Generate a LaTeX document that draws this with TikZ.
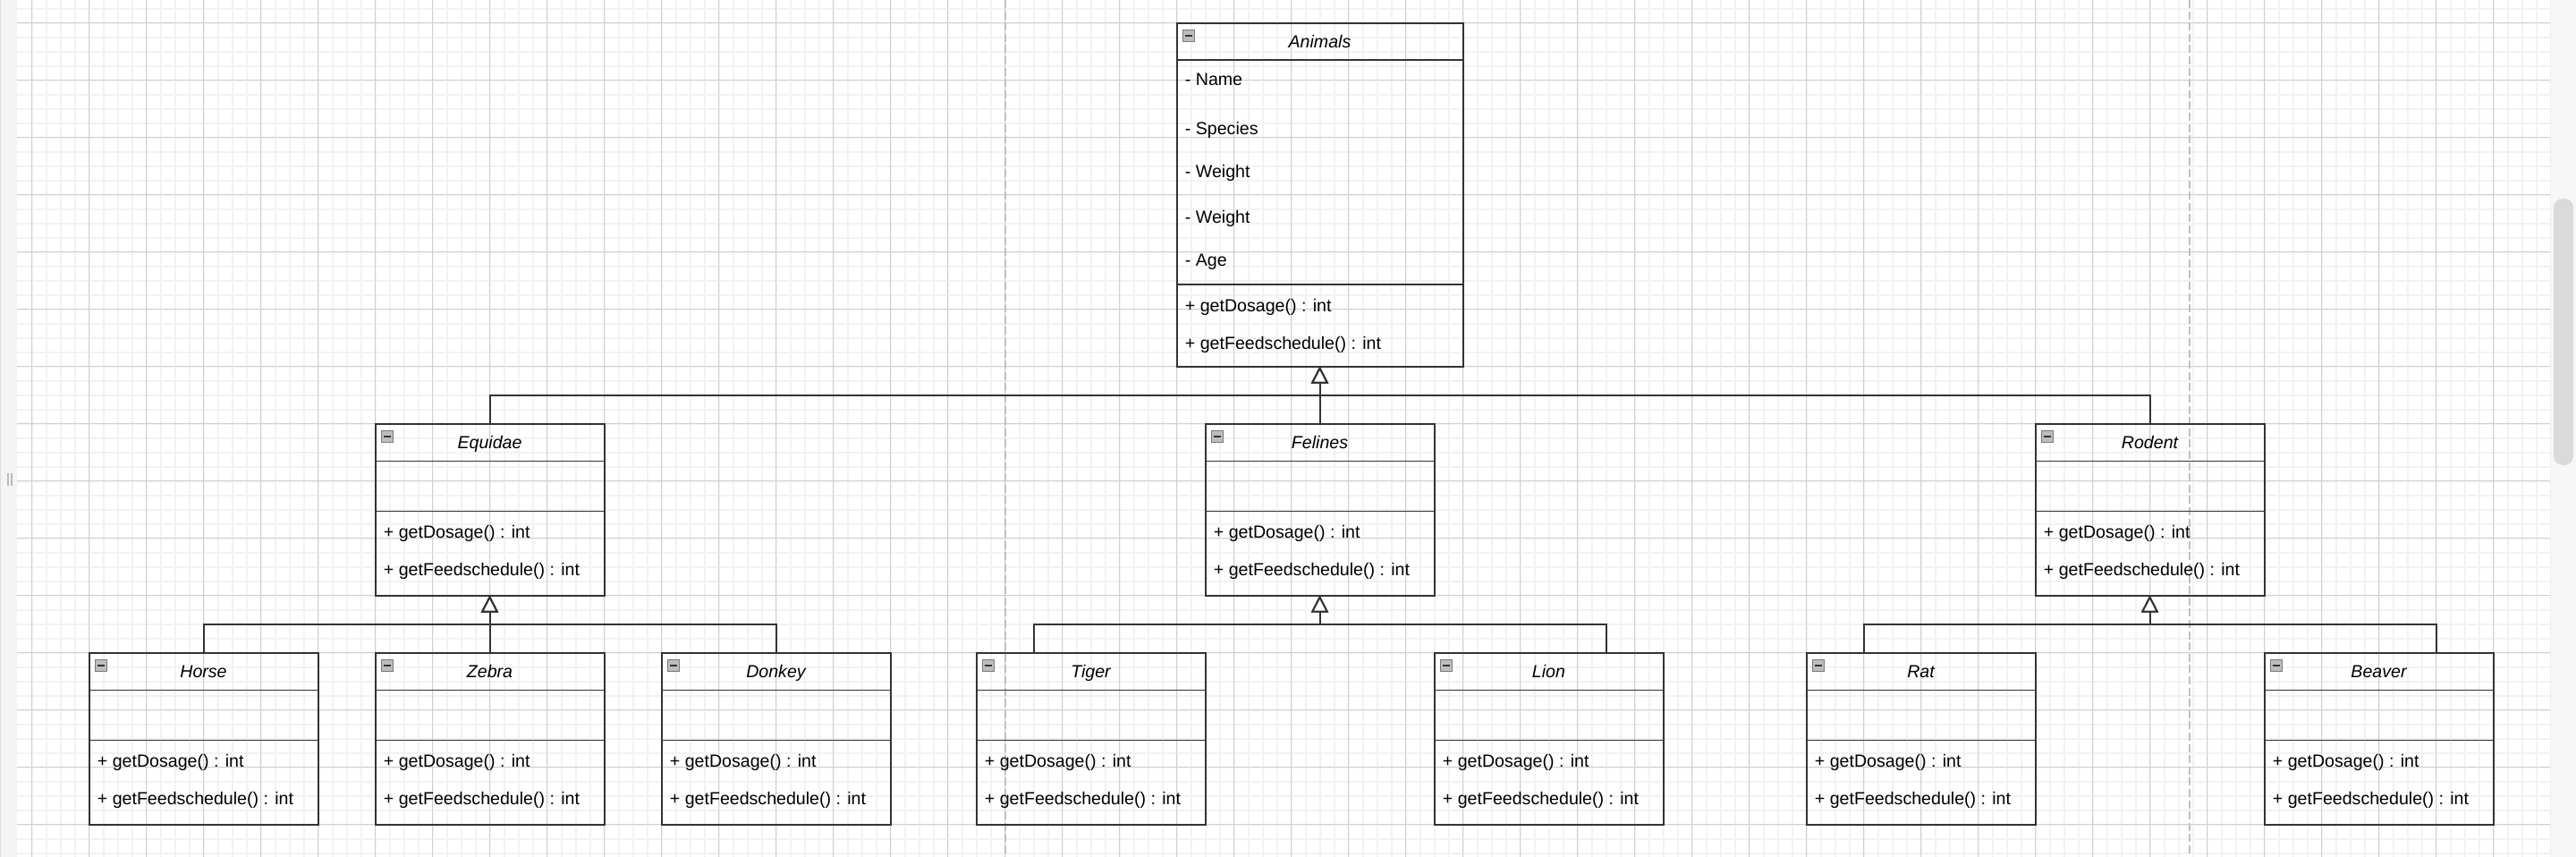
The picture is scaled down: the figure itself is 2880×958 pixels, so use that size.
\documentclass[tikz,border=0pt]{standalone}
\usepackage{fontspec}
\setmainfont{Liberation Sans}
\usetikzlibrary{arrows.meta,calc}
\definecolor{minorgrid}{HTML}{F2F2F2}
\definecolor{majorgrid}{HTML}{D0D0D0}
\definecolor{pagebreak}{HTML}{C0C0C0}
\definecolor{ink}{HTML}{333333}
\definecolor{sidebar}{HTML}{F4F4F4}
\definecolor{rpanel}{HTML}{F7F7F8}
\definecolor{thumb}{HTML}{DADADA}
\definecolor{iconfill}{HTML}{BDBDBD}
\definecolor{iconedge}{HTML}{7A7A7A}
\tikzset{
  classbox/.style={draw=ink, line width=1pt, rectangle, inner sep=0pt, outer sep=0pt, anchor=north west},
  childbox/.style={classbox, minimum width=128pt, minimum height=96pt},
  sectionline/.style={draw=ink, line width=0.9pt},
  titletext/.style={font=\fontsize{9.8pt}{11pt}\selectfont\itshape, inner sep=0pt, anchor=base, text=black},
  membertext/.style={font=\fontsize{9.8pt}{11pt}\selectfont, inner sep=0pt, anchor=base west, text=black},
  inherit/.style={draw=ink, line width=1pt, -{Triangle[fill=white, length=9.5pt, width=9.5pt]}},
  minorline/.style={draw=minorgrid, line width=1pt},
  majorline/.style={draw=majorgrid, line width=0.55pt},
  pageline/.style={draw=pagebreak, line width=1pt, dash pattern=on 4.5pt off 1.8pt},
}
\newcommand{\collapseicon}[1]{%
  \draw[fill=iconfill, draw=iconedge, line width=0.45pt] ($(#1.north west)+(7,8)$) rectangle ($(#1.north west)+(20,21)$);
  \draw[black!80, line width=1pt] ($(#1.north west)+(9.5,14.5)$) -- ($(#1.north west)+(17.5,14.5)$);
}
\newcommand{\childclass}[4]{%
  \node[childbox] (#1) at (#2,#3) {};
  \draw[sectionline] ($(#1.north west)+(0,42)$) -- ($(#1.north east)+(0,42)$);
  \draw[sectionline] ($(#1.north west)+(0,98)$) -- ($(#1.north east)+(0,98)$);
  \collapseicon{#1}
  \node[titletext] (#1-title) at ($(#1.north)+(0,28)$) {#4};
  \node[membertext] (#1-m1) at ($(#1.north west)+(9,128)$) {+ getDosage() : int};
  \node[membertext] (#1-m2) at ($(#1.north west)+(9,170)$) {+ getFeedschedule() : int};
}
\begin{document}
\begin{tikzpicture}[x=0.5pt, y=-0.5pt]
\useasboundingbox (0,0) rectangle (2880,958);
\fill[white] (0,0) rectangle (2880,958);
% grid
\foreach \i in {0,...,175} {\draw[minorline] ({35.5+16*\i},0) -- ({35.5+16*\i},958);}
\foreach \j in {-1,...,58} {\draw[minorline] (19,{25.5+16*\j}) -- (2851,{25.5+16*\j});}
\foreach \i in {0,...,44} {\draw[majorline] ({35.5+64*\i},0) -- ({35.5+64*\i},958);}
\foreach \j in {0,...,14} {\draw[majorline] (19,{25.5+64*\j}) -- (2851,{25.5+64*\j});}
% page breaks
\draw[pageline] (1124,0) -- (1124,958);
\draw[pageline] (2448,0) -- (2448,958);
% side panels
\fill[sidebar] (0,0) rectangle (19,958);
\draw[black!12, line width=0.6pt] (0.6,0) -- (0.6,958);
\fill[gray!55] (7.7,529) rectangle (9.8,543);
\fill[gray!55] (11.5,529) rectangle (13.6,543);
\fill[rpanel] (2851,0) rectangle (2880,958);
\draw[black!8, line width=0.5pt] (2851,0) -- (2851,958);
\fill[thumb, rounded corners=5pt] (2855,222) rectangle (2877,520);
% Animals
\node[classbox, minimum width=160pt, minimum height=192pt] (animals) at (1315.5,25.5) {};
\draw[sectionline] ($(animals.north west)+(0,41.6)$) -- ($(animals.north east)+(0,41.6)$);
\draw[sectionline] ($(animals.north west)+(0,292.8)$) -- ($(animals.north east)+(0,292.8)$);
\collapseicon{animals}
\node[titletext] (animals-title) at ($(animals.north)+(0,28)$) {Animals};
\node[membertext] (animals-a1) at ($(animals.north west)+(9,69.5)$) {- Name};
\node[membertext] (animals-a2) at ($(animals.north west)+(9,124.5)$) {- Species};
\node[membertext] (animals-a3) at ($(animals.north west)+(9,173)$) {- Weight};
\node[membertext] (animals-a4) at ($(animals.north west)+(9,223.5)$) {- Weight};
\node[membertext] (animals-a5) at ($(animals.north west)+(9,271.5)$) {- Age};
\node[membertext] (animals-m1) at ($(animals.north west)+(9,323)$) {+ getDosage() : int};
\node[membertext] (animals-m2) at ($(animals.north west)+(9,364.5)$) {+ getFeedschedule() : int};
% second row
\childclass{equidae}{419.5}{473.5}{Equidae}
\childclass{felines}{1347.5}{473.5}{Felines}
\childclass{rodent}{2275.5}{473.5}{Rodent}
% third row
\childclass{horse}{99.5}{729.5}{Horse}
\childclass{zebra}{419.5}{729.5}{Zebra}
\childclass{donkey}{739.5}{729.5}{Donkey}
\childclass{tiger}{1091.5}{729.5}{Tiger}
\childclass{lion}{1603.5}{729.5}{Lion}
\childclass{rat}{2019.5}{729.5}{Rat}
\childclass{beaver}{2531.5}{729.5}{Beaver}
% generalizations
\draw[inherit] (equidae.north) -- ++(0,-32) -| (animals.south);
\draw[inherit] (felines.north) -- (animals.south);
\draw[inherit] (rodent.north) -- ++(0,-32) -| (animals.south);
\draw[inherit] (horse.north) -- ++(0,-32) -| (equidae.south);
\draw[inherit] (zebra.north) -- (equidae.south);
\draw[inherit] (donkey.north) -- ++(0,-32) -| (equidae.south);
\draw[inherit] ($(tiger.north)+(-64,0)$) -- ++(0,-32) -| (felines.south);
\draw[inherit] ($(lion.north)+(64,0)$) -- ++(0,-32) -| (felines.south);
\draw[inherit] ($(rat.north)+(-64,0)$) -- ++(0,-32) -| (rodent.south);
\draw[inherit] ($(beaver.north)+(64,0)$) -- ++(0,-32) -| (rodent.south);
\end{tikzpicture}
\end{document}
